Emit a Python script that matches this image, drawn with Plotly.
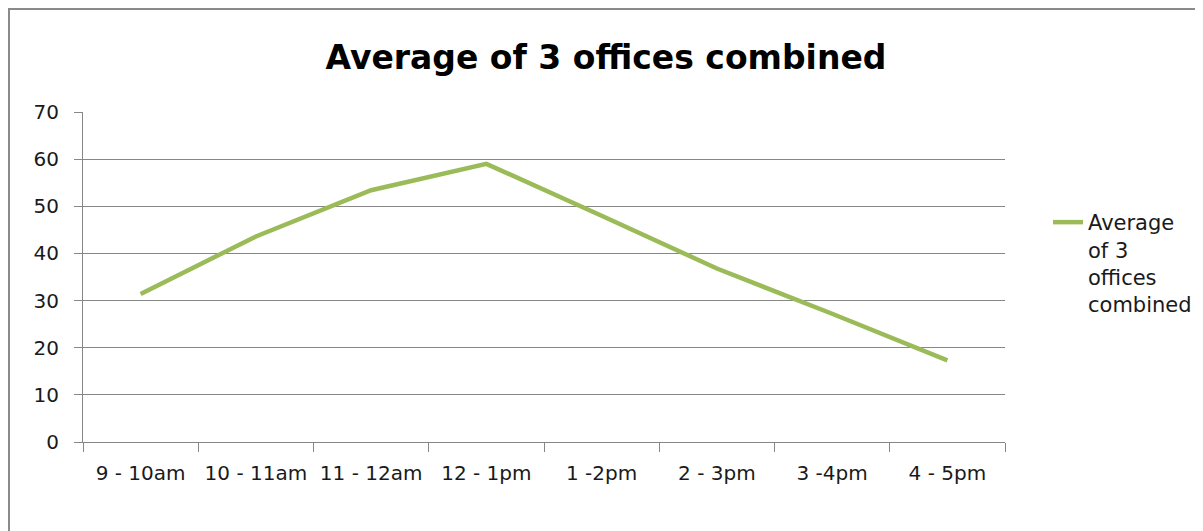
import plotly.graph_objects as go

categories = ["9 - 10am", "10 - 11am", "11 - 12am", "12 - 1pm", "1 -2pm", "2 - 3pm", "3 -4pm", "4 - 5pm"]
values = [31.4, 43.6, 53.4, 59.0, 48.0, 36.8, 27.2, 17.3]
series_name = "Average of 3 offices combined"
legend_label = "Average<br>of 3<br>offices<br>combined"
y_ticks = [0, 10, 20, 30, 40, 50, 60, 70]

OFF = 8  # page body margin
W, H = 1203 - OFF, 531 - OFF
# target pixel positions in the window
L, R, T, B = 83 - OFF, 1005 - OFF, 112 - OFF, 442 - OFF

grid = "#878787"
font_family = "DejaVu Sans"

fig = go.Figure()
fig.add_trace(go.Scatter(
    x=categories, y=values, mode="lines", name=legend_label,
    line=dict(color="#9BBB59", width=4.5),
    showlegend=True,
))

def px_to_paper_x(px):
    return (px - OFF - L) / (R - L)

def px_to_paper_y(py):
    return (B - (py - OFF)) / (B - T)

fig.add_shape(type="rect", xref="paper", yref="paper",
              x0=px_to_paper_x(9), x1=px_to_paper_x(1230),
              y0=px_to_paper_y(560), y1=px_to_paper_y(9),
              line=dict(color="#8a8a8a", width=2), fillcolor="rgba(0,0,0,0)", layer="below")

fig.update_layout(
    width=W, height=H,
    margin=dict(l=L, r=W - R, t=T, b=H - B, pad=0),
    paper_bgcolor="white", plot_bgcolor="white",
    title=dict(text="<b>" + series_name + "</b>", x=(606 - OFF) / W, xanchor="center",
               y=1 - (57 - OFF) / H, yanchor="middle", xref="container", yref="container",
               font=dict(family=font_family, size=33, color="#000000")),
    font=dict(family=font_family, size=20, color="#1a1a1a"),
    showlegend=True,
    legend=dict(x=(1048 - OFF) / W, xanchor="left", y=1 - (202 - OFF) / H, yanchor="top",
                xref="container", yref="container",
                font=dict(family=font_family, size=21, color="#1a1a1a"),
                valign="top", bgcolor="rgba(0,0,0,0)", borderwidth=0,
                tracegroupgap=0),
    xaxis=dict(type="category", range=[-0.5, len(categories) - 0.5],
               tickson="boundaries", ticks="outside", ticklen=9, tickcolor=grid, tickwidth=1,
               showgrid=False, showline=True, linecolor=grid, linewidth=1,
               ticklabelstandoff=13, fixedrange=True),
    yaxis=dict(range=[0, 70], tickvals=y_ticks, ticks="outside", ticklen=8,
               tickcolor=grid, tickwidth=1, showgrid=True, gridcolor=grid, gridwidth=1,
               showline=True, linecolor=grid, linewidth=1, zeroline=False,
               ticklabelstandoff=11, fixedrange=True),
)

fig.write_html("out.html")
